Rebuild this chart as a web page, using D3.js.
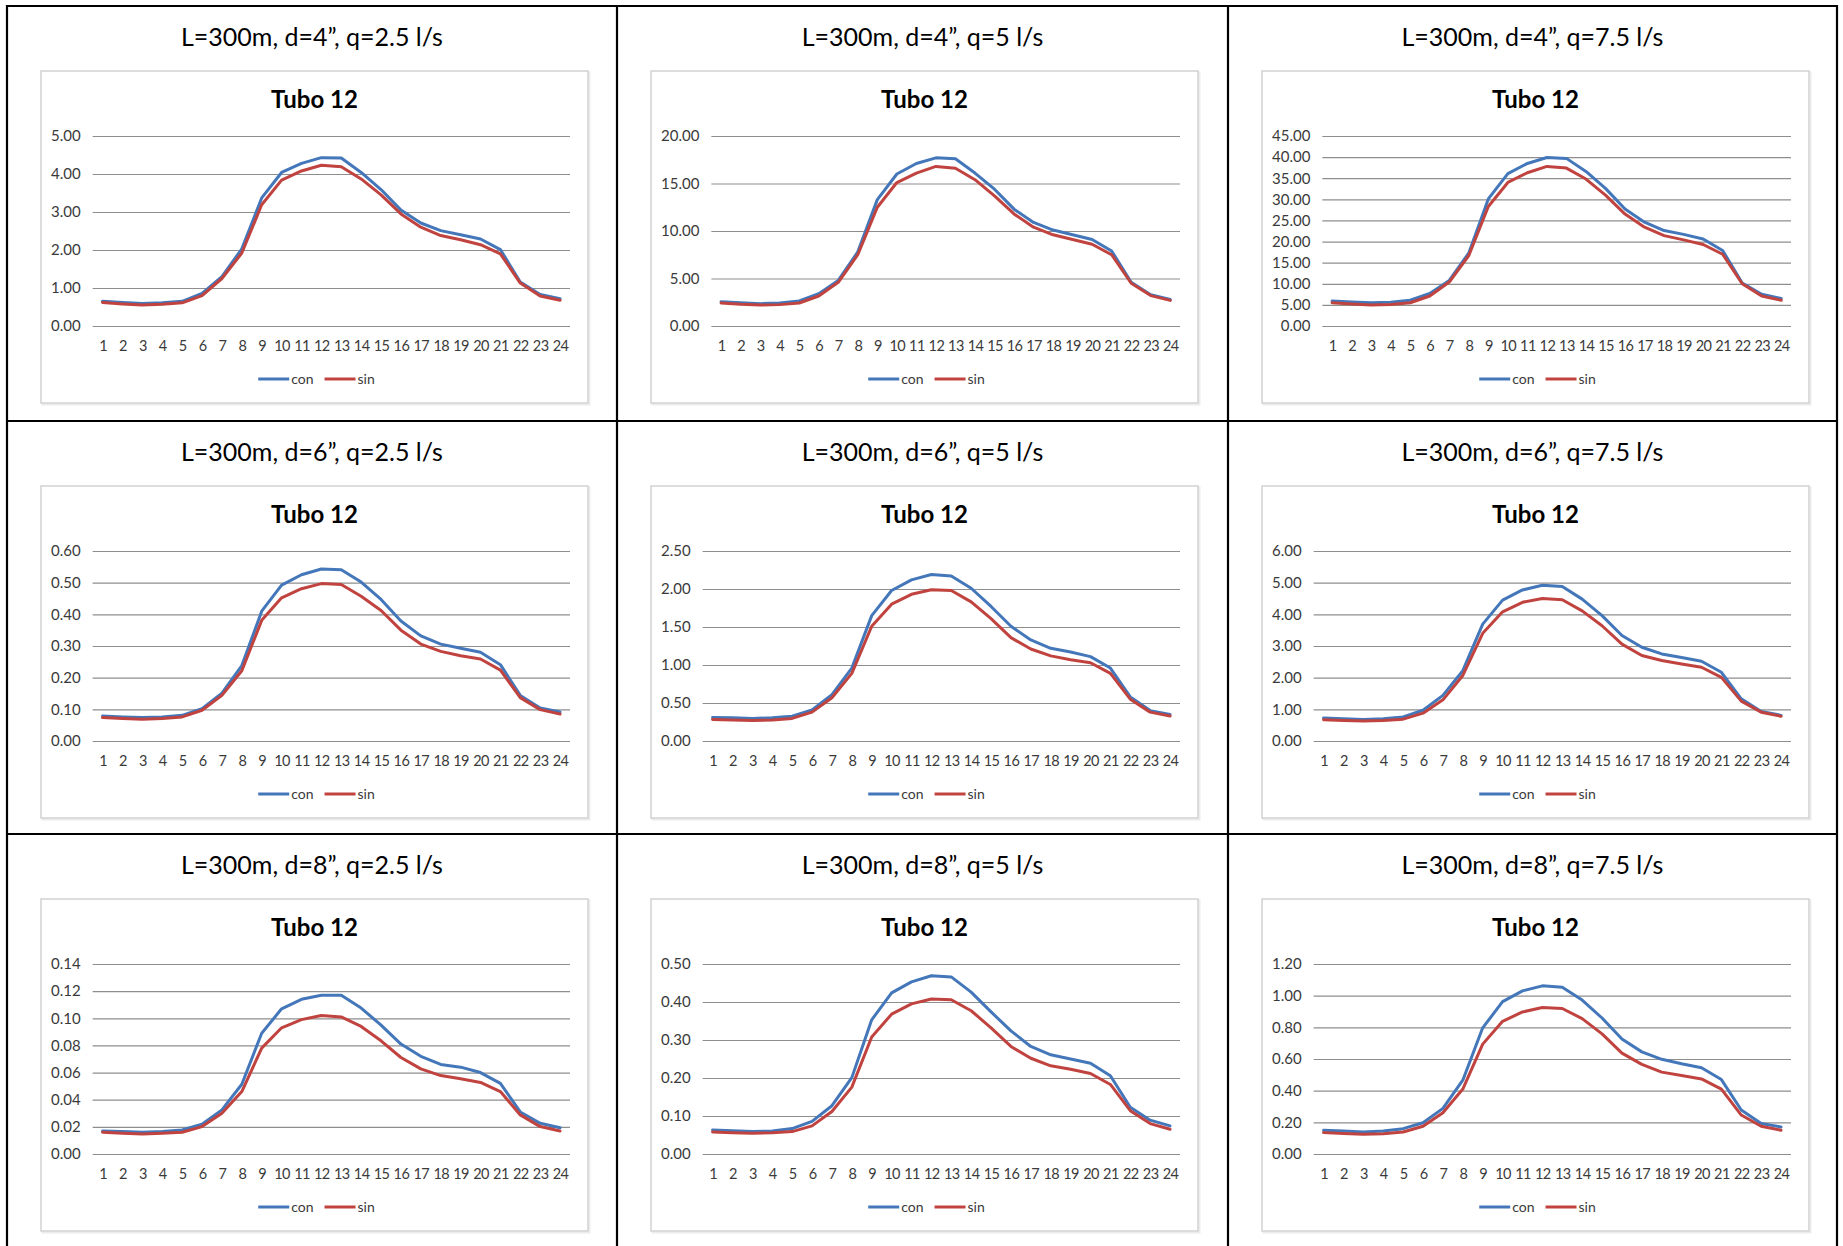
<!DOCTYPE html>
<html>
<head>
<meta charset="utf-8">
<script src="https://cdn.jsdelivr.net/npm/d3@7"></script>
<style>
  html, body { margin: 0; padding: 0; background: #fff; }
  svg { display: block; }
</style>
</head>
<body>
<svg id="chart" width="1843" height="1246"></svg>
<script>
// ---------------- DATA ----------------
const hours = d3.range(1, 25);
const seriesNames = ["con", "sin"];
const chartTitle = "Tubo 12";

const headers = [
  "L=300m, d=4\u201D, q=2.5 l/s", "L=300m, d=4\u201D, q=5 l/s", "L=300m, d=4\u201D, q=7.5 l/s",
  "L=300m, d=6\u201D, q=2.5 l/s", "L=300m, d=6\u201D, q=5 l/s", "L=300m, d=6\u201D, q=7.5 l/s",
  "L=300m, d=8\u201D, q=2.5 l/s", "L=300m, d=8\u201D, q=5 l/s", "L=300m, d=8\u201D, q=7.5 l/s"
];

// y-axis tick values per chart
const ticks_d4_q25 = [0, 1, 2, 3, 4, 5];
const ticks_d4_q5  = [0, 5, 10, 15, 20];
const ticks_d4_q75 = [0, 5, 10, 15, 20, 25, 30, 35, 40, 45];
const ticks_d6_q25 = [0, 0.1, 0.2, 0.3, 0.4, 0.5, 0.6];
const ticks_d6_q5  = [0, 0.5, 1.0, 1.5, 2.0, 2.5];
const ticks_d6_q75 = [0, 1, 2, 3, 4, 5, 6];
const ticks_d8_q25 = [0, 0.02, 0.04, 0.06, 0.08, 0.10, 0.12, 0.14];
const ticks_d8_q5  = [0, 0.1, 0.2, 0.3, 0.4, 0.5];
const ticks_d8_q75 = [0, 0.2, 0.4, 0.6, 0.8, 1.0, 1.2];

// series values (hour 1..24)
const con_d4_q25 = [0.65,0.62,0.59,0.61,0.65,0.86,1.30,2.03,3.37,4.04,4.28,4.43,4.42,4.04,3.59,3.05,2.71,2.51,2.40,2.29,2.01,1.16,0.83,0.72];
const sin_d4_q25 = [0.62,0.58,0.55,0.57,0.61,0.80,1.25,1.92,3.19,3.84,4.08,4.23,4.19,3.87,3.45,2.95,2.60,2.38,2.27,2.14,1.90,1.13,0.79,0.68];

const con_d4_q5 = [2.56,2.46,2.35,2.42,2.63,3.40,4.80,7.80,13.3,16.0,17.1,17.7,17.6,16.1,14.4,12.3,10.9,10.1,9.6,9.1,7.9,4.6,3.3,2.8];
const sin_d4_q5 = [2.42,2.28,2.21,2.25,2.42,3.16,4.60,7.50,12.5,15.1,16.1,16.8,16.6,15.4,13.7,11.8,10.4,9.6,9.1,8.6,7.5,4.5,3.2,2.7];

const con_d4_q75 = [5.9,5.7,5.5,5.65,6.1,7.7,10.8,17.3,30.1,36.1,38.5,39.9,39.7,36.6,32.6,27.7,24.6,22.6,21.7,20.6,17.9,10.2,7.5,6.5];
const sin_d4_q75 = [5.5,5.2,4.95,5.1,5.5,7.1,10.4,16.7,28.3,34.0,36.3,37.8,37.4,34.8,31.0,26.5,23.4,21.4,20.4,19.3,17.0,10.0,7.1,6.1];

const con_d6_q25 = [0.079,0.076,0.074,0.076,0.081,0.102,0.151,0.238,0.410,0.492,0.525,0.543,0.541,0.502,0.447,0.379,0.332,0.306,0.293,0.280,0.241,0.144,0.104,0.092];
const sin_d6_q25 = [0.074,0.071,0.069,0.071,0.076,0.097,0.144,0.222,0.381,0.452,0.481,0.497,0.494,0.457,0.412,0.350,0.306,0.283,0.269,0.259,0.224,0.137,0.099,0.085];

const con_d6_q5 = [0.31,0.305,0.297,0.305,0.327,0.41,0.61,0.96,1.65,1.98,2.12,2.19,2.17,2.01,1.77,1.51,1.33,1.22,1.17,1.11,0.96,0.58,0.40,0.35];
const sin_d6_q5 = [0.284,0.275,0.27,0.275,0.297,0.38,0.57,0.89,1.51,1.80,1.93,1.99,1.98,1.83,1.61,1.36,1.21,1.12,1.07,1.03,0.89,0.55,0.38,0.33];

const con_d6_q75 = [0.73,0.70,0.68,0.70,0.76,0.97,1.44,2.22,3.69,4.45,4.77,4.92,4.88,4.48,3.96,3.33,2.96,2.75,2.64,2.52,2.17,1.33,0.93,0.81];
const sin_d6_q75 = [0.67,0.65,0.63,0.65,0.69,0.88,1.30,2.07,3.40,4.08,4.38,4.50,4.46,4.11,3.64,3.06,2.70,2.54,2.43,2.33,2.01,1.26,0.91,0.78];

const con_d8_q25 = [0.0170,0.0165,0.0160,0.0165,0.0177,0.0219,0.0325,0.0514,0.089,0.107,0.114,0.117,0.117,0.1075,0.095,0.081,0.072,0.066,0.064,0.060,0.052,0.031,0.0226,0.0194];
const sin_d8_q25 = [0.0160,0.0153,0.0148,0.0153,0.0160,0.0202,0.030,0.046,0.078,0.093,0.099,0.102,0.101,0.094,0.0834,0.0711,0.0627,0.0578,0.0554,0.0527,0.046,0.0288,0.0202,0.0170];

const con_d8_q5 = [0.063,0.0615,0.059,0.0606,0.067,0.086,0.127,0.201,0.353,0.424,0.453,0.469,0.466,0.426,0.374,0.324,0.283,0.261,0.250,0.239,0.206,0.123,0.089,0.074];
const sin_d8_q5 = [0.058,0.056,0.0545,0.056,0.059,0.074,0.112,0.176,0.308,0.368,0.395,0.408,0.406,0.377,0.332,0.283,0.252,0.232,0.223,0.212,0.183,0.114,0.080,0.065];

const con_d8_q75 = [0.150,0.145,0.139,0.145,0.160,0.197,0.288,0.466,0.797,0.962,1.03,1.062,1.053,0.972,0.859,0.726,0.645,0.598,0.570,0.545,0.470,0.278,0.192,0.171];
const sin_d8_q75 = [0.135,0.130,0.124,0.128,0.139,0.175,0.261,0.410,0.694,0.838,0.897,0.925,0.919,0.855,0.759,0.637,0.566,0.517,0.496,0.474,0.410,0.246,0.175,0.150];

// table assembled from the named arrays
const panels = [
  { header: headers[0], ticks: ticks_d4_q25, con: con_d4_q25, sin: sin_d4_q25 },
  { header: headers[1], ticks: ticks_d4_q5,  con: con_d4_q5,  sin: sin_d4_q5 },
  { header: headers[2], ticks: ticks_d4_q75, con: con_d4_q75, sin: sin_d4_q75 },
  { header: headers[3], ticks: ticks_d6_q25, con: con_d6_q25, sin: sin_d6_q25 },
  { header: headers[4], ticks: ticks_d6_q5,  con: con_d6_q5,  sin: sin_d6_q5 },
  { header: headers[5], ticks: ticks_d6_q75, con: con_d6_q75, sin: sin_d6_q75 },
  { header: headers[6], ticks: ticks_d8_q25, con: con_d8_q25, sin: sin_d8_q25 },
  { header: headers[7], ticks: ticks_d8_q5,  con: con_d8_q5,  sin: sin_d8_q5 },
  { header: headers[8], ticks: ticks_d8_q75, con: con_d8_q75, sin: sin_d8_q75 }
];

// ---------------- LAYOUT / STYLE ----------------
const W = 1843, H = 1246;
const colX = [7, 617, 1228, 1837];
const rowY = [6, 421, 834, H + 2];
const FONT = "Lato, Carlito, Calibri, 'Open Sans', sans-serif";
const colors = { con: "#4477BA", sin: "#C0433F" };
const grid = "#8e8e8e";
const tickColor = "#3a3a3a";
const TICK_FS = 15;
const XTICK_FS = 14.5;

const svg = d3.select("#chart");
svg.append("rect").attr("width", W).attr("height", H).attr("fill", "#fff");

// table lines
const tbl = svg.append("g").attr("stroke", "#000").attr("stroke-width", 2.2);
colX.forEach(x => tbl.append("line").attr("x1", x).attr("x2", x).attr("y1", rowY[0] - 1).attr("y2", H));
rowY.slice(0, 3).forEach(y => tbl.append("line").attr("x1", colX[0] - 1).attr("x2", colX[3] + 1).attr("y1", y).attr("y2", y));

// measuring helper
const meas = svg.append("text").attr("font-family", FONT).attr("font-size", 14).attr("visibility", "hidden");
function textW(s, size, weight) {
  meas.attr("font-size", size).attr("font-weight", weight || "normal").text(s);
  return meas.node().getComputedTextLength();
}

const fmt = d3.format(".2f");

panels.forEach((p, i) => {
  const c = i % 3, r = Math.floor(i / 3);
  const cx = colX[c], cy = rowY[r];
  const cw = colX[c + 1] - colX[c];
  const g = svg.append("g");

  // header
  g.append("text")
    .attr("x", cx + cw / 2).attr("y", cy + 40)
    .attr("text-anchor", "middle")
    .attr("font-family", FONT).attr("font-size", 25)
    .attr("fill", "#000")
    .text(p.header);

  // chart box
  const bx = cx + 34, by = cy + 65, bw = 547, bh = 332;
  g.append("rect")
    .attr("x", bx + 1.5).attr("y", by + 1.5).attr("width", bw).attr("height", bh)
    .attr("fill", "none").attr("stroke", "#ececec").attr("stroke-width", 2);
  g.append("rect")
    .attr("x", bx).attr("y", by).attr("width", bw).attr("height", bh)
    .attr("fill", "#fff").attr("stroke", "#d2d2d2").attr("stroke-width", 1.5);

  // title
  g.append("text")
    .attr("x", bx + bw / 2).attr("y", by + 37)
    .attr("text-anchor", "middle")
    .attr("font-family", FONT).attr("font-size", 24).attr("font-weight", "bold")
    .attr("fill", "#000")
    .text(chartTitle);

  // plot area
  const maxLabW = d3.max(p.ticks, t => textW(fmt(t), TICK_FS));
  const pl = bx + 22 + maxLabW;
  const pr = bx + bw - 18;
  const pt = by + 65, pb = by + 255;

  const x = d3.scalePoint().domain(hours).range([pl, pr]).padding(0.5);
  const y = d3.scaleLinear().domain([0, d3.max(p.ticks)]).range([pb, pt]);

  // gridlines + y labels
  const yAxis = d3.axisLeft(y).tickValues(p.ticks).tickFormat(fmt).tickSize(-(pr - pl)).tickPadding(12);
  const ya = g.append("g").attr("transform", `translate(${pl},0)`).call(yAxis);
  ya.select(".domain").remove();
  ya.selectAll(".tick line").attr("stroke", grid).attr("stroke-width", 1.2);
  ya.selectAll(".tick text")
    .attr("font-family", FONT).attr("font-size", TICK_FS).attr("fill", tickColor);

  // x axis labels
  const xAxis = d3.axisBottom(x).tickSize(0).tickPadding(15);
  const xa = g.append("g").attr("transform", `translate(0,${pb})`).call(xAxis);
  xa.select(".domain").remove();
  xa.selectAll(".tick text")
    .attr("font-family", FONT).attr("font-size", XTICK_FS).attr("letter-spacing", -0.6)
    .attr("fill", tickColor);

  // lines
  const line = d3.line().x((d, k) => x(hours[k])).y(d => y(d));
  seriesNames.forEach(s => {
    g.append("path")
      .datum(p[s])
      .attr("d", line)
      .attr("fill", "none")
      .attr("stroke", colors[s])
      .attr("stroke-width", 3)
      .attr("stroke-linejoin", "round")
      .attr("stroke-linecap", "round");
  });

  // legend
  const ly = by + 308;
  const segL = 31, gap1 = 2, gap2 = 11;
  const wCon = textW("con", 14), wSin = textW("sin", 14);
  const total = segL + gap1 + wCon + gap2 + segL + gap1 + wSin;
  let lx = bx + bw / 2 - total / 2 + 2;
  seriesNames.forEach((s, k) => {
    g.append("line")
      .attr("x1", lx).attr("x2", lx + segL).attr("y1", ly).attr("y2", ly)
      .attr("stroke", colors[s]).attr("stroke-width", 3);
    g.append("text")
      .attr("x", lx + segL + gap1).attr("y", ly + 5)
      .attr("font-family", FONT).attr("font-size", 14).attr("fill", tickColor)
      .text(s);
    lx += segL + gap1 + (k === 0 ? wCon : wSin) + gap2;
  });
});
meas.remove();
</script>
</body>
</html>
